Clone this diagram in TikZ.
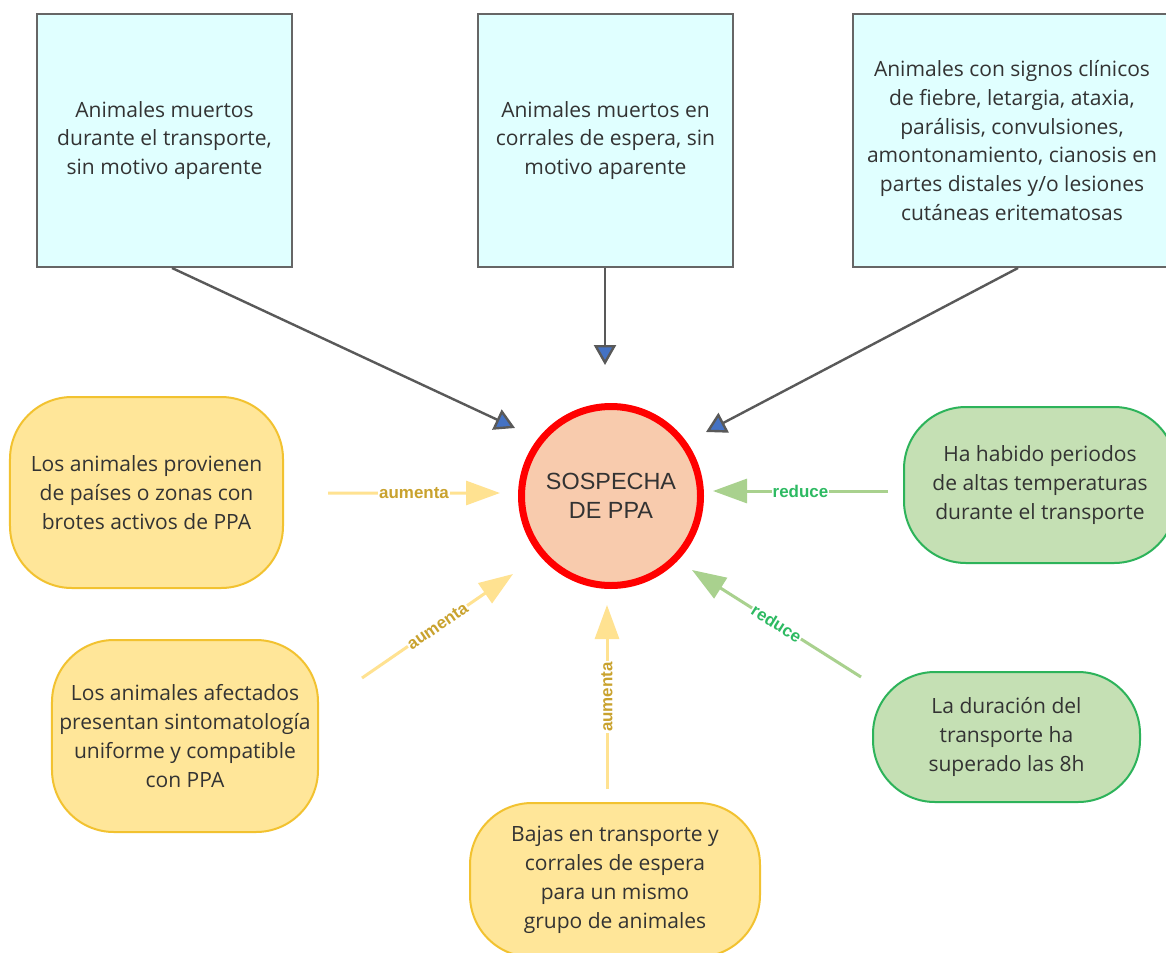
\documentclass[tikz,border=0pt]{standalone}
\usepackage{fontspec}
\setmainfont{Open Sans}
\newfontfamily\arialfont{Liberation Sans}
\usetikzlibrary{arrows.meta}
\definecolor{boxfill}{HTML}{E0FFFF}
\definecolor{boxline}{HTML}{666666}
\definecolor{circfill}{HTML}{F8CBAD}
\definecolor{yfill}{HTML}{FFE699}
\definecolor{yline}{HTML}{F2C230}
\definecolor{gfill}{HTML}{C5E0B4}
\definecolor{gline}{HTML}{2DB35A}
\definecolor{yarr}{HTML}{FFE291}
\definecolor{garr}{HTML}{A9D18E}
\definecolor{ylab}{HTML}{C9A22E}
\definecolor{glab}{HTML}{2DBA62}
\definecolor{feedgray}{HTML}{595959}
\definecolor{headblue}{HTML}{4472C4}
\definecolor{txt}{HTML}{333333}
\begin{document}
\begin{tikzpicture}[x=1bp,y=-1bp,
  bodytext/.style={align=center,inner sep=0pt,text=txt,font=\fontsize{21.1}{29}\selectfont},
  sqbox/.style={bodytext,draw=boxline,fill=boxfill,line width=2bp,minimum height=253bp},
  ybox/.style={bodytext,draw=yline,fill=yfill,line width=2bp,rounded corners=62bp},
  gbox/.style={bodytext,draw=gline,fill=gfill,line width=2bp,rounded corners=62bp},
  feed/.style={draw=feedgray,line width=2.4bp,-{Triangle[length=20bp,width=22bp,fill=headblue]}},
  yarrow/.style={draw=yarr,line width=3bp,-{Triangle[length=34bp,width=24bp]}},
  grarrow/.style={draw=garr,line width=3bp,-{Triangle[length=34bp,width=24bp]}},
  ylabel/.style={font=\arialfont\bfseries\fontsize{17}{17}\selectfont,text=ylab,fill=white,inner sep=1bp},
  glabel/.style={font=\arialfont\bfseries\fontsize{17}{17}\selectfont,text=glab,fill=white,inner sep=1bp},
]
\useasboundingbox (0,0) rectangle (1166,953);
\clip (0,0) rectangle (1166,953);
\fill[white] (0,0) rectangle (1166,953);

% top boxes
\node[sqbox,minimum width=255bp] (t1) at (164.5,140.5) {Animales muertos\\durante el transporte,\\sin motivo aparente};
\node[sqbox,minimum width=255bp] (t2) at (605.5,140.5) {Animales muertos en\\corrales de espera, sin\\motivo aparente};
\node[sqbox,minimum width=318bp] (t3) at (1012,140.5) {Animales con signos clínicos\\de fiebre, letargia, ataxia,\\parálisis, convulsiones,\\amontonamiento, cianosis en\\partes distales y/o lesiones\\cutáneas eritematosas};

% centre
\node[circle,draw=red,fill=circfill,line width=7bp,minimum size=179bp,align=center,inner sep=0pt,
  font=\arialfont\fontsize{23.5}{29}\selectfont,text=txt] (c) at (611,496) {SOSPECHA\\DE PPA};

% factor boxes
\node[ybox,minimum width=273bp,minimum height=191bp] (l1) at (146.5,492.5) {Los animales provienen\\de países o zonas con\\brotes activos de PPA};
\node[ybox,minimum width=266bp,minimum height=192bp] (l2) at (185,736) {Los animales afectados\\presentan sintomatología\\uniforme y compatible\\con PPA};
\node[ybox,minimum width=290bp,minimum height=154bp] (b) at (615,880) {Bajas en transporte y\\corrales de espera\\para un mismo\\grupo de animales};
\node[gbox,minimum width=272bp,minimum height=156bp] (r1) at (1040,485) {Ha habido periodos\\de altas temperaturas\\durante el transporte};
\node[gbox,minimum width=267bp,minimum height=130bp] (r2) at (1006.5,737) {La duración del\\transporte ha\\superado las 8h};

% feed arrows
\draw[feed] ([shift={(7.5,0)}]t1.south) -- ([shift={(-96,-68)}]c.center);
\draw[feed] ([shift={(-0.5,0)}]t2.south) -- ([shift={(-6,-131)}]c.center);
\draw[feed] ([shift={(6,0)}]t3.south) -- ([shift={(95,-64)}]c.center);

% factor arrows
\draw[yarrow] ([shift={(44,0.5)}]l1.east) -- node[midway,sloped,ylabel]{aumenta} ([shift={(-111,-3)}]c.center);
\draw[yarrow] ([shift={(43,-58)}]l2.east) -- node[midway,sloped,ylabel]{aumenta} ([shift={(-98,78)}]c.center);
\draw[yarrow] ([shift={(-8,-13)}]b.north) -- node[midway,sloped,ylabel]{aumenta} ([shift={(-4,109)}]c.center);
\draw[grarrow] ([shift={(-15,6)}]r1.west) -- node[midway,sloped,glabel]{reduce} ([shift={(102,-5)}]c.center);
\draw[grarrow] ([shift={(-11,-60)}]r2.west) -- node[midway,sloped,glabel]{reduce} ([shift={(81,74)}]c.center);
\end{tikzpicture}
\end{document}
